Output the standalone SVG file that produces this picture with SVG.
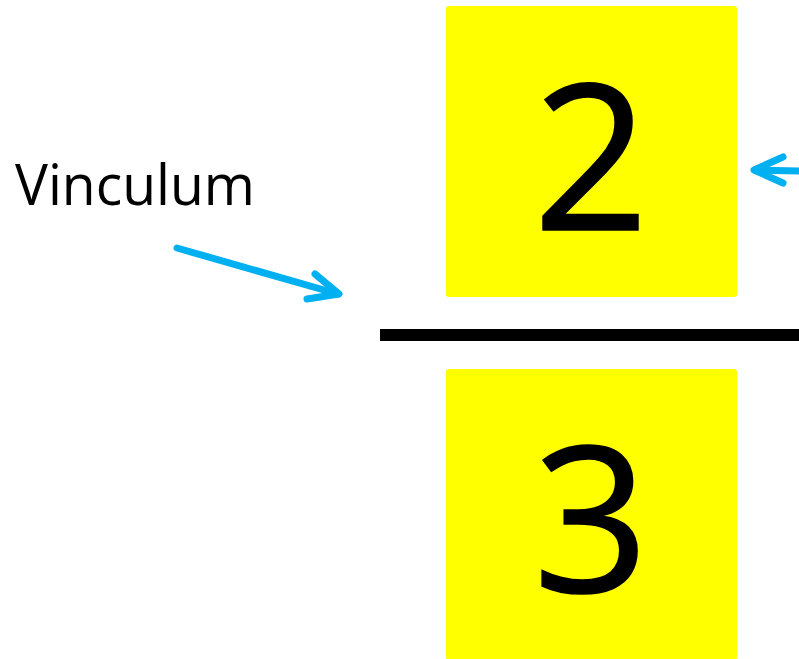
<svg xmlns="http://www.w3.org/2000/svg" width="799" height="659" viewBox="0 0 799 659">
<style>
.box{fill:#FFFF00}
.digit{font-family:"Open Sans","Noto Sans",sans-serif;font-size:203px;fill:#000;stroke:#000;stroke-width:1.5;text-anchor:middle}
.lbl{font-family:"Open Sans","Noto Sans",sans-serif;font-size:57px;fill:#000}
.arr{stroke:#00B0F0;stroke-width:7;stroke-linecap:round;stroke-linejoin:round;fill:none}
</style>
<rect width="799" height="659" fill="#fff"/>
<g id="numerator">
<rect class="box" x="446" y="6" width="291" height="291" rx="3"/>
<text class="digit" x="591" y="230">2</text>
</g>
<g id="denominator">
<rect class="box" x="446" y="369" width="291" height="291" rx="3"/>
<text class="digit" x="591" y="592">3</text>
</g>
<g id="vinculum">
<rect x="380" y="329" width="419" height="12" fill="#000"/>
</g>
<g id="label">
<text class="lbl" x="15" y="205" textLength="240" lengthAdjust="spacingAndGlyphs">Vinculum</text>
</g>
<g id="connectors">
<path class="arr" d="M177,248 L338,294"/>
<path class="arr" d="M315,274 L339,294 L307,299"/>
<path class="arr" d="M799,171 L756,170"/>
<path class="arr" d="M783,157 L754,170 L783,183"/>
</g>
</svg>
